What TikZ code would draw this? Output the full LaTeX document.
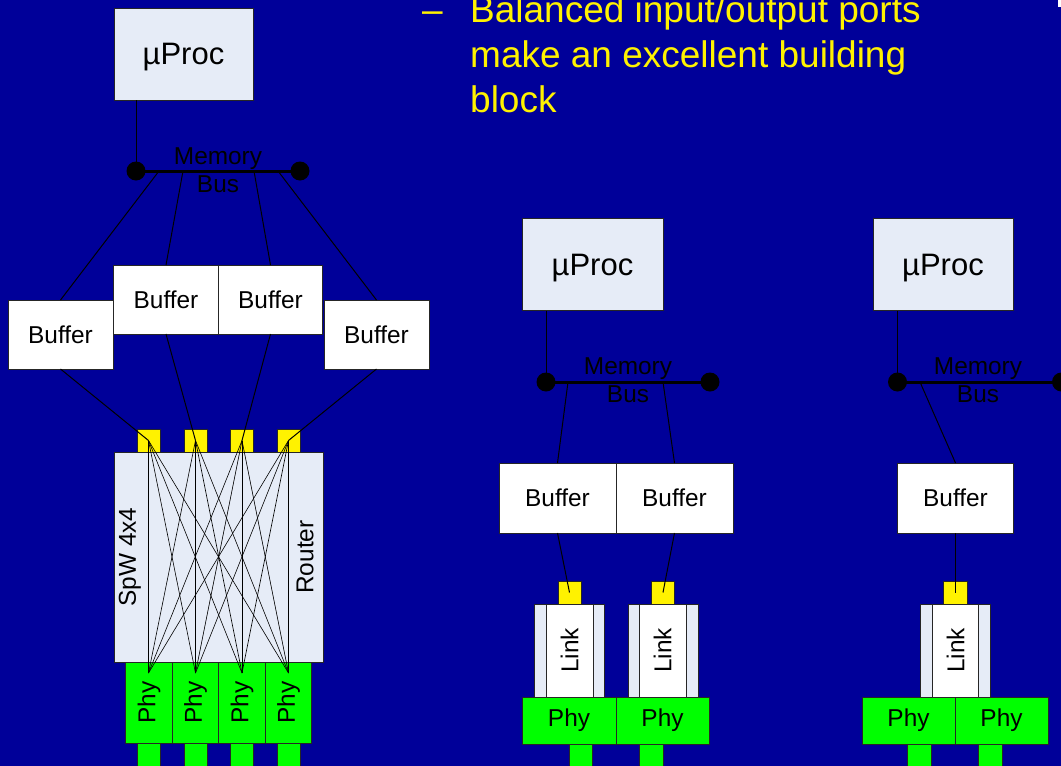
\documentclass[tikz,border=0pt]{standalone}
\usepackage{fontspec}
\setmainfont{Liberation Sans}
\begin{document}
\begin{tikzpicture}[x=1pt,y=-1pt,
  box/.style={draw=black!85,line width=0.9pt,inner sep=0pt,outer sep=0pt,font=\fontsize{24.4}{28}\selectfont},
  procbox/.style={box,fill=procfill,minimum width=140,minimum height=92,font=\fontsize{31}{36}\selectfont,text depth=0pt},
  bufbox/.style={box,fill=white},
  portbox/.style={box,fill=yellow,minimum width=23,minimum height=23},
  phybox/.style={box,fill=phygreen},
  stubbox/.style={box,fill=phygreen,minimum width=23.5,minimum height=30,anchor=north},
  linkouter/.style={box,fill=procfill,minimum width=70,minimum height=93},
  linkinner/.style={box,fill=white,minimum width=47,minimum height=93},
  busdot/.style={circle,fill=black,inner sep=0pt,minimum size=19},
  busline/.style={line width=3pt},
  wire/.style={line width=1pt},
  xwire/.style={line width=0.6pt},
  buslabel/.style={align=center,inner sep=0pt,font=\fontsize{24.4}{28.5}\selectfont},
  bullet/.style={anchor=base west,inner sep=0pt,text=yellow,font=\fontsize{37}{45}\selectfont}
]
\definecolor{slideblue}{RGB}{0,0,153}
\definecolor{procfill}{RGB}{230,236,247}
\definecolor{phygreen}{RGB}{0,255,0}

% slide background
\fill[slideblue] (0,0) rectangle (1061,766);
\useasboundingbox (0,0) rectangle (1061,766);
\clip (0,0) rectangle (1061,766);
\fill[white] (1058,0) rectangle (1061,7);

% bullet text
\node[bullet] (dash) at (422,22) {–};
\node[bullet] (line1) at (470,22) {Balanced input/output ports};
\node[bullet] (line2) at (470,67) {make an excellent building};
\node[bullet] (line3) at (470,112) {block};

% ================= 4x4 router node =================
\node[procbox,minimum width=139] (procA) at (183.5,54) {µProc};
\node[busdot] (busAl) at (136,171) {};
\node[busdot] (busAr) at (300,171) {};
\draw[busline] (busAl.center) -- (busAr.center);
\draw[wire] (procA.south -| busAl) -- (busAl.center);
\node[buslabel] (memA) at (218,170) {Memory\\Bus};

\node[bufbox,minimum width=105,minimum height=69] (bufA1) at (60.5,334.5) {Buffer};
\node[bufbox,minimum width=104.5,minimum height=69] (bufA2) at (166,299.5) {Buffer};
\node[bufbox,minimum width=104.5,minimum height=69] (bufA3) at (270.5,299.5) {Buffer};
\node[bufbox,minimum width=105,minimum height=69] (bufA4) at (376.5,334.5) {Buffer};

\coordinate (tapA1) at (159,171);
\coordinate (tapA2) at (183,171);
\coordinate (tapA3) at (254,171);
\coordinate (tapA4) at (278,171);
\foreach \i in {1,...,4} \draw[wire] (tapA\i) -- (bufA\i.north);

\node[box,fill=procfill,minimum width=209,minimum height=210] (router) at (218.5,557) {};
\node[rotate=90,font=\fontsize{24.4}{28}\selectfont] (spw) at (130,557) {SpW 4x4};
\node[rotate=90,font=\fontsize{24.4}{28}\selectfont] (rtr) at (305,557) {Router};

\node[portbox] (portA1) at (148.5,440.5) {};
\node[portbox] (portA2) at (195.5,440.5) {};
\node[portbox] (portA3) at (242,440.5) {};
\node[portbox] (portA4) at (288.5,440.5) {};
\foreach \i in {1,...,4} \draw[wire] (bufA\i.south) -- (portA\i.center);

% rotated: width runs along the text, i.e. vertically on the page
\node[phybox,minimum width=81,minimum height=46.5,rotate=90] (phyA1) at (149,702.5) {Phy};
\node[phybox,minimum width=81,minimum height=46.5,rotate=90] (phyA2) at (195.5,702.5) {Phy};
\node[phybox,minimum width=81,minimum height=46.5,rotate=90] (phyA3) at (242,702.5) {Phy};
\node[phybox,minimum width=81,minimum height=46.5,rotate=90] (phyA4) at (288.5,702.5) {Phy};
\node[stubbox,minimum width=23] (stubA1) at (148.5,743) {};
\node[stubbox,minimum width=23] (stubA2) at (195.5,743) {};
\node[stubbox,minimum width=23] (stubA3) at (242,743) {};
\node[stubbox,minimum width=23] (stubA4) at (288.5,743) {};

% crossbar: every port to every phy
\coordinate (xA1) at (148.5,673);
\coordinate (xA2) at (195.5,673);
\coordinate (xA3) at (242,673);
\coordinate (xA4) at (288.5,673);
\foreach \i in {1,...,4}
  \foreach \j in {1,...,4}
    \draw[xwire] (portA\i.center) -- (xA\j);

% ================= dual-link node =================
\node[procbox,minimum width=141] (procB) at (592.5,264.5) {µProc};
\node[busdot] (busBl) at (546,382) {};
\node[busdot] (busBr) at (710,382) {};
\draw[busline] (busBl.center) -- (busBr.center);
\draw[wire] (procB.south -| busBl) -- (busBl.center);
\node[buslabel] (memB) at (628,380) {Memory\\Bus};

\node[bufbox,minimum width=117,minimum height=70] (bufB1) at (557.5,498) {Buffer};
\node[bufbox,minimum width=117,minimum height=70] (bufB2) at (674.5,498) {Buffer};
\coordinate (tapB1) at (568,382);
\coordinate (tapB2) at (663,382);
\draw[wire] (tapB1) -- (bufB1.north);
\draw[wire] (tapB2) -- (bufB2.north);

\node[linkouter] (linkB1o) at (569,650.5) {};
\node[linkinner,rotate=90,minimum width=93,minimum height=47] (linkB1) at (569.5,650.5) {Link};
\node[linkouter] (linkB2o) at (663,650.5) {};
\node[linkinner,rotate=90,minimum width=93,minimum height=47] (linkB2) at (662.5,650.5) {Link};

\node[portbox] (portB1) at (569.5,592.5) {};
\node[portbox] (portB2) at (663,592.5) {};
\draw[wire] (bufB1.south) -- (portB1.center);
\draw[wire] (bufB2.south) -- (portB2.center);

\node[phybox,minimum width=94,minimum height=47] (phyB1) at (569,720.5) {Phy};
\node[phybox,minimum width=93,minimum height=47] (phyB2) at (662.5,720.5) {Phy};
\node[stubbox] (stubB1) at (581,744) {};
\node[stubbox] (stubB2) at (651.5,744) {};

% ================= single-link node =================
\node[procbox] (procC) at (943,264.5) {µProc};
\node[busdot] (busCl) at (897.5,382) {};
\node[busdot] (busCr) at (1061.5,382) {};
\draw[busline] (busCl.center) -- (busCr.center);
\draw[wire] (procC.south -| busCl) -- (busCl.center);
\node[buslabel] (memC) at (978,380) {Memory\\Bus};

\node[bufbox,minimum width=116,minimum height=70] (bufC) at (955.5,498) {Buffer};
\coordinate (tapC) at (920,382);
\draw[wire] (tapC) -- (bufC.north);

\node[linkouter] (linkCo) at (955.5,650.5) {};
\node[linkinner,rotate=90,minimum width=93,minimum height=46] (linkC) at (955.5,650.5) {Link};

\node[portbox,minimum width=24] (portC) at (955.5,592.5) {};
\draw[wire] (bufC.south) -- (portC.center);

\node[phybox,minimum width=93,minimum height=47] (phyC1) at (908.5,720.5) {Phy};
\node[phybox,minimum width=93,minimum height=47] (phyC2) at (1001.5,720.5) {Phy};
\node[stubbox] (stubC1) at (919.5,744) {};
\node[stubbox] (stubC2) at (990.5,744) {};
\end{tikzpicture}
\end{document}
